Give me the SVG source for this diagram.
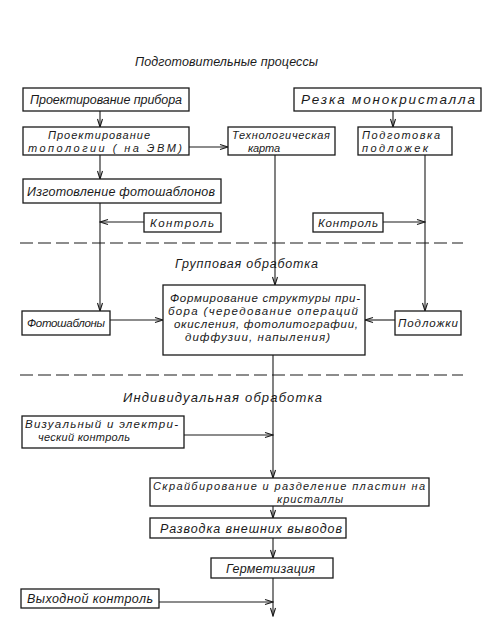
<svg xmlns="http://www.w3.org/2000/svg" width="491" height="617" viewBox="0 0 491 617">
<style>
.b{fill:#fff;stroke:#1a1a1a;stroke-width:1.3}
.t{font-family:"Liberation Sans","DejaVu Sans",sans-serif;font-style:italic;font-size:11.5px;fill:#1a1a1a}
.s{font-size:11px}
.l{font-size:12.5px}
.c{fill:none;stroke:#1a1a1a;stroke-width:1.1}
.d{fill:none;stroke:#1a1a1a;stroke-width:1.2;stroke-dasharray:13 5}
</style>
<defs>
<marker id="a" markerWidth="10" markerHeight="8" refX="9" refY="4" orient="auto" markerUnits="userSpaceOnUse">
<path d="M1,1.5 L9,4 L1,6.5" fill="none" stroke="#1a1a1a" stroke-width="1.1"/>
</marker>
</defs>
<rect width="491" height="617" fill="#fff"/>
<g id="labels">
<text class="t l" x="135" y="66" textLength="183" lengthAdjust="spacing">Подготовительные процессы</text>
<text class="t l" x="175" y="268" textLength="143" lengthAdjust="spacing">Групповая обработка</text>
<text class="t" style="font-size:13px" x="123" y="402" textLength="199" lengthAdjust="spacing">Индивидуальная обработка</text>
</g>
<g id="dividers">
<line class="d" x1="20" y1="243" x2="463" y2="243"/>
<line class="d" x1="20" y1="375" x2="463" y2="375"/>
</g>
<g id="connectors">
<line class="c" x1="100" y1="111" x2="100" y2="127" marker-end="url(#a)"/>
<line class="c" x1="393" y1="111" x2="393" y2="127" marker-end="url(#a)"/>
<line class="c" x1="189" y1="147" x2="228" y2="147" marker-end="url(#a)"/>
<line class="c" x1="100" y1="155" x2="100" y2="179" marker-end="url(#a)"/>
<line class="c" x1="100" y1="203" x2="100" y2="311" marker-end="url(#a)"/>
<line class="c" x1="144" y1="222" x2="100" y2="222" marker-end="url(#a)"/>
<line class="c" x1="275" y1="155" x2="275" y2="285" marker-end="url(#a)"/>
<line class="c" x1="425" y1="155" x2="425" y2="311" marker-end="url(#a)"/>
<line class="c" x1="383" y1="222" x2="425" y2="222" marker-end="url(#a)"/>
<line class="c" x1="110" y1="320" x2="163" y2="320" marker-end="url(#a)"/>
<line class="c" x1="395" y1="320" x2="365" y2="320" marker-end="url(#a)"/>
<line class="c" x1="273" y1="355" x2="273" y2="478" marker-end="url(#a)"/>
<line class="c" x1="184" y1="435" x2="273" y2="435" marker-end="url(#a)"/>
<line class="c" x1="273" y1="506" x2="273" y2="518" marker-end="url(#a)"/>
<line class="c" x1="273" y1="538" x2="273" y2="558" marker-end="url(#a)"/>
<line class="c" x1="273" y1="578" x2="273" y2="616" marker-end="url(#a)"/>
<line class="c" x1="159" y1="602" x2="273" y2="602" marker-end="url(#a)"/>
</g>
<g id="n1"><rect class="b" x="23" y="88" width="166" height="23"/>
<text class="t l" x="30" y="104" textLength="152" lengthAdjust="spacing">Проектирование прибора</text></g>
<g id="n2"><rect class="b" x="294" y="88" width="187" height="23"/>
<text class="t" style="font-size:13.5px" x="301" y="104" textLength="174" lengthAdjust="spacing">Резка монокристалла</text></g>
<g id="n3"><rect class="b" x="23" y="127" width="166" height="28"/>
<text class="t s" x="48" y="139" textLength="102" lengthAdjust="spacing">Проектирование</text>
<text class="t s" x="28" y="152" textLength="154" lengthAdjust="spacing">топологии ( на ЭВМ)</text></g>
<g id="n4"><rect class="b" x="228" y="127" width="107" height="28"/>
<text class="t s" x="232" y="139" textLength="98" lengthAdjust="spacing">Технологическая</text>
<text class="t s" x="248" y="152" textLength="32" lengthAdjust="spacing">карта</text></g>
<g id="n5"><rect class="b" x="358" y="127" width="94" height="28"/>
<text class="t s" x="362" y="139" textLength="78" lengthAdjust="spacing">Подготовка</text>
<text class="t s" x="362" y="152" textLength="66" lengthAdjust="spacing">подложек</text></g>
<g id="n6"><rect class="b" x="23" y="179" width="198" height="24"/>
<text class="t l" x="27" y="196" textLength="188" lengthAdjust="spacing">Изготовление фотошаблонов</text></g>
<g id="n7"><rect class="b" x="144" y="213" width="77" height="19"/>
<text class="t" x="150" y="227" textLength="64" lengthAdjust="spacing">Контроль</text></g>
<g id="n8"><rect class="b" x="313" y="213" width="70" height="19"/>
<text class="t" x="318" y="227" textLength="60" lengthAdjust="spacing">Контроль</text></g>
<g id="n9"><rect class="b" x="22" y="311" width="88" height="24"/>
<text class="t" x="27" y="327" textLength="78" lengthAdjust="spacing">Фотошаблоны</text></g>
<g id="n10"><rect class="b" x="163" y="285" width="202" height="70"/>
<text class="t" x="170" y="302" textLength="190" lengthAdjust="spacing">Формирование структуры при-</text>
<text class="t" x="168" y="315" textLength="190" lengthAdjust="spacing">бора (чередование операций</text>
<text class="t" x="174" y="328" textLength="184" lengthAdjust="spacing">окисления, фотолитографии,</text>
<text class="t" x="185" y="341" textLength="145" lengthAdjust="spacing">диффузии, напыления)</text></g>
<g id="n11"><rect class="b" x="395" y="311" width="66" height="24"/>
<text class="t" x="398" y="327" textLength="60" lengthAdjust="spacing">Подложки</text></g>
<g id="n12"><rect class="b" x="22" y="416" width="162" height="32"/>
<text class="t" x="25" y="428" textLength="153" lengthAdjust="spacing">Визуальный и электри-</text>
<text class="t s" x="38" y="441" textLength="92" lengthAdjust="spacing">ческий контроль</text></g>
<g id="n13"><rect class="b" x="150" y="478" width="279" height="28"/>
<text class="t s" x="153" y="490" textLength="272" lengthAdjust="spacing">Скрайбирование и разделение пластин на</text>
<text class="t s" x="277" y="503" textLength="66" lengthAdjust="spacing">кристаллы</text></g>
<g id="n14"><rect class="b" x="150" y="518" width="196" height="20"/>
<text class="t l" x="160" y="533" textLength="182" lengthAdjust="spacing">Разводка внешних выводов</text></g>
<g id="n15"><rect class="b" x="211" y="558" width="122" height="20"/>
<text class="t l" x="226" y="573" textLength="89" lengthAdjust="spacing">Герметизация</text></g>
<g id="n16"><rect class="b" x="21" y="589" width="138" height="19"/>
<text class="t l" x="27" y="603" textLength="126" lengthAdjust="spacing">Выходной контроль</text></g>
</svg>
